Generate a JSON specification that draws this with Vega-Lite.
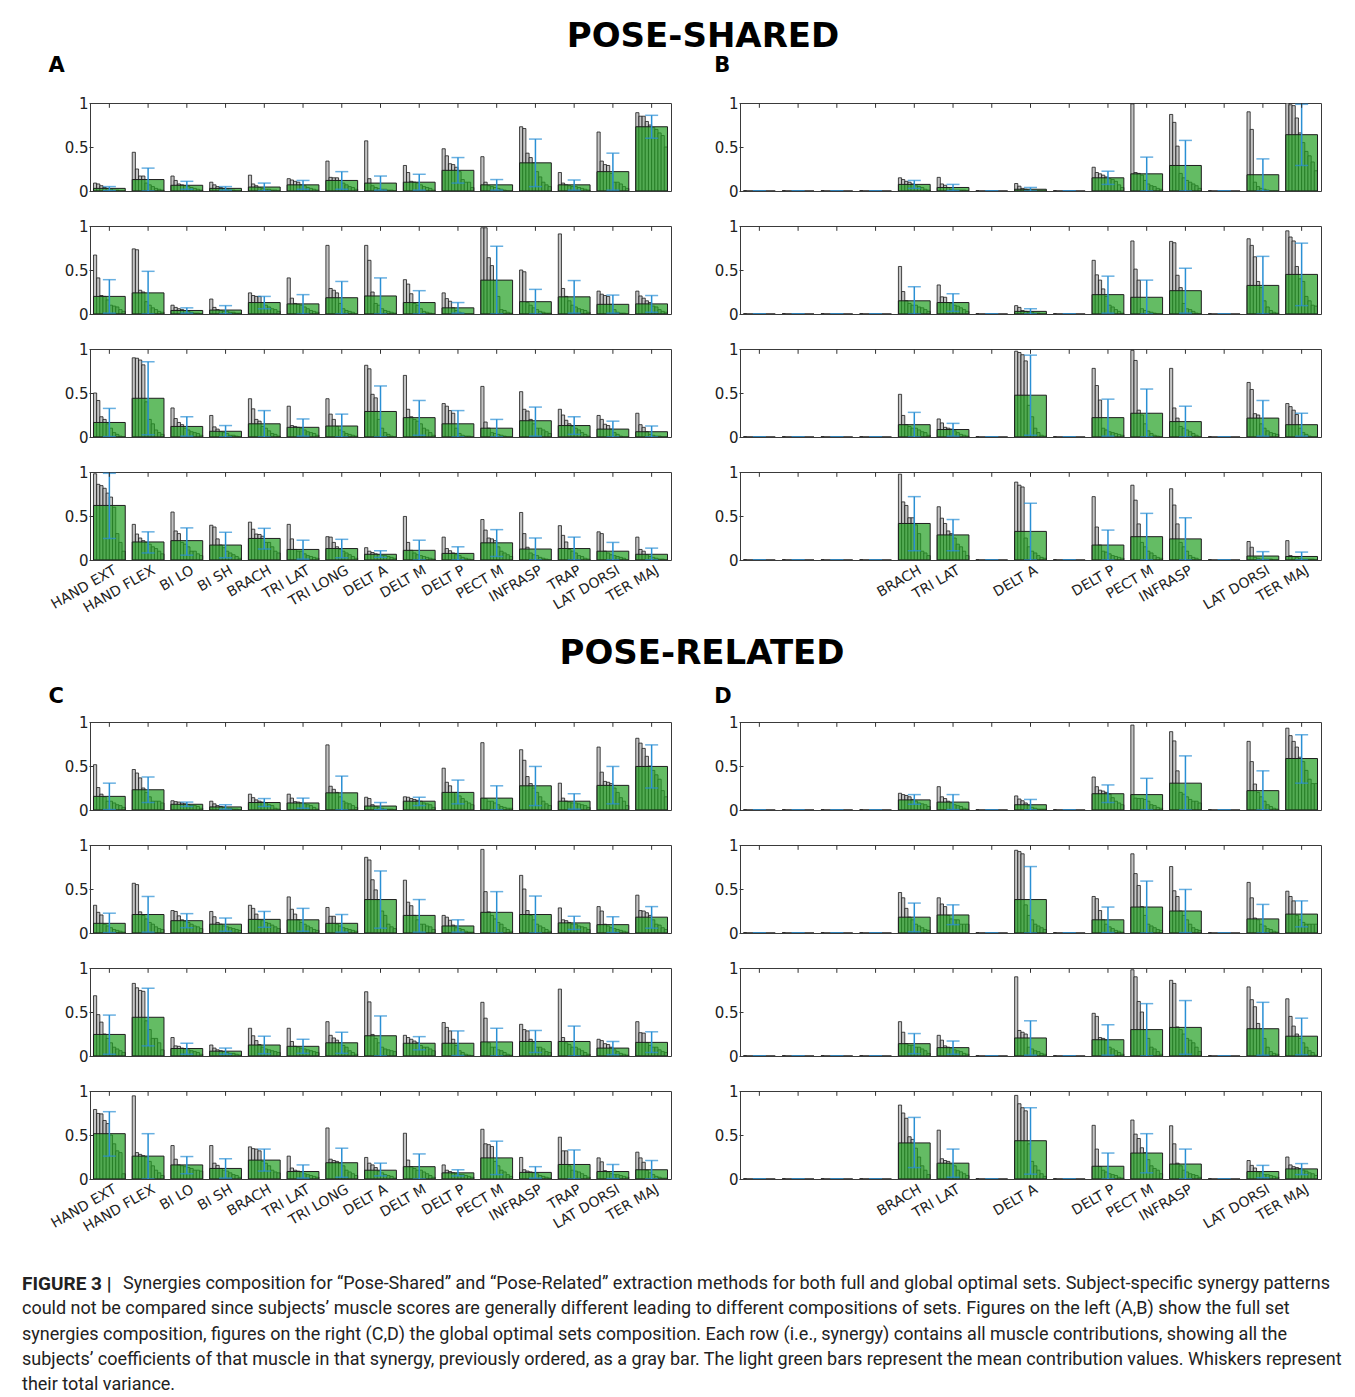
{
"$schema": "https://vega.github.io/schema/vega-lite/v6.json",
"background": "white",
"padding": {"left": 22, "top": 20, "right": 5, "bottom": 0},
"config": {
 "view": {"stroke": "#3a3a3a", "strokeWidth": 1},
 "font": "DejaVu Sans",
 "axis": {"labelFont": "DejaVu Sans", "labelColor": "#222", "domain": false, "grid": false, "tickColor": "#333"}
},
"data": {"values": [
{"p":"A","r":1,"m":"HAND EXT","u":0.03,"lo":0.005,"hi":0.05,"s":[0.09,0.08,0.06,0.04,0.03,0.02,0.01,0.01,0,0]},
{"p":"A","r":1,"m":"HAND FLEX","u":0.13,"lo":0,"hi":0.26,"s":[0.44,0.25,0.17,0.17,0.09,0.07,0.05,0.03,0.02,0.01]},
{"p":"A","r":1,"m":"BI LO","u":0.065,"lo":0.02,"hi":0.11,"s":[0.17,0.12,0.08,0.07,0.06,0.05,0.04,0.03,0.02,0.01]},
{"p":"A","r":1,"m":"BI SH","u":0.03,"lo":0.01,"hi":0.05,"s":[0.1,0.07,0.05,0.04,0.03,0.02,0.01,0.01,0,0]},
{"p":"A","r":1,"m":"BRACH","u":0.045,"lo":0,"hi":0.09,"s":[0.18,0.08,0.06,0.04,0.03,0.02,0.02,0.01,0.01,0]},
{"p":"A","r":1,"m":"TRI LAT","u":0.07,"lo":0.02,"hi":0.12,"s":[0.14,0.125,0.11,0.1,0.07,0.06,0.04,0.03,0.02,0.01]},
{"p":"A","r":1,"m":"TRI LONG","u":0.12,"lo":0.02,"hi":0.22,"s":[0.34,0.155,0.15,0.15,0.12,0.09,0.07,0.05,0.04,0.02]},
{"p":"A","r":1,"m":"DELT A","u":0.09,"lo":0.01,"hi":0.17,"s":[0.57,0.14,0.06,0.04,0.03,0.02,0.02,0.01,0.01,0]},
{"p":"A","r":1,"m":"DELT M","u":0.1,"lo":0.01,"hi":0.19,"s":[0.29,0.21,0.11,0.1,0.09,0.07,0.05,0.04,0.03,0.01]},
{"p":"A","r":1,"m":"DELT P","u":0.235,"lo":0.09,"hi":0.38,"s":[0.48,0.4,0.31,0.3,0.27,0.22,0.13,0.1,0.1,0.04]},
{"p":"A","r":1,"m":"PECT M","u":0.07,"lo":0.01,"hi":0.13,"s":[0.39,0.1,0.06,0.05,0.04,0.03,0.02,0.01,0,0]},
{"p":"A","r":1,"m":"INFRASP","u":0.32,"lo":0.05,"hi":0.59,"s":[0.73,0.71,0.43,0.38,0.32,0.22,0.16,0.1,0.07,0.05]},
{"p":"A","r":1,"m":"TRAP","u":0.07,"lo":0.01,"hi":0.125,"s":[0.21,0.09,0.07,0.06,0.05,0.05,0.04,0.03,0.02,0.01]},
{"p":"A","r":1,"m":"LAT DORSI","u":0.22,"lo":0.01,"hi":0.43,"s":[0.67,0.34,0.3,0.29,0.2,0.1,0.1,0.08,0.05,0.03]},
{"p":"A","r":1,"m":"TER MAJ","u":0.73,"lo":0.6,"hi":0.86,"s":[0.89,0.85,0.85,0.79,0.75,0.72,0.7,0.66,0.63,0.5]},
{"p":"A","r":2,"m":"HAND EXT","u":0.2,"lo":0.01,"hi":0.39,"s":[0.67,0.41,0.21,0.2,0.16,0.1,0.09,0.08,0.05,0.03]},
{"p":"A","r":2,"m":"HAND FLEX","u":0.24,"lo":0,"hi":0.485,"s":[0.74,0.73,0.27,0.25,0.14,0.1,0.07,0.05,0.03,0.02]},
{"p":"A","r":2,"m":"BI LO","u":0.04,"lo":0.01,"hi":0.07,"s":[0.1,0.075,0.06,0.05,0.04,0.03,0.02,0.01,0.01,0]},
{"p":"A","r":2,"m":"BI SH","u":0.045,"lo":0,"hi":0.095,"s":[0.17,0.075,0.05,0.04,0.03,0.03,0.02,0.02,0.01,0.01]},
{"p":"A","r":2,"m":"BRACH","u":0.13,"lo":0.06,"hi":0.2,"s":[0.24,0.21,0.2,0.2,0.13,0.1,0.08,0.06,0.05,0.03]},
{"p":"A","r":2,"m":"TRI LAT","u":0.115,"lo":0,"hi":0.22,"s":[0.41,0.18,0.12,0.11,0.1,0.08,0.06,0.04,0.03,0.02]},
{"p":"A","r":2,"m":"TRI LONG","u":0.185,"lo":0,"hi":0.37,"s":[0.78,0.29,0.27,0.24,0.12,0.06,0.04,0.03,0.02,0]},
{"p":"A","r":2,"m":"DELT A","u":0.205,"lo":0,"hi":0.41,"s":[0.78,0.61,0.25,0.12,0.1,0.06,0.04,0.03,0.02,0.01]},
{"p":"A","r":2,"m":"DELT M","u":0.13,"lo":0,"hi":0.265,"s":[0.39,0.34,0.23,0.12,0.1,0.06,0.03,0.02,0.01,0]},
{"p":"A","r":2,"m":"DELT P","u":0.07,"lo":0.01,"hi":0.13,"s":[0.24,0.175,0.145,0.07,0.04,0.02,0.01,0,0,0]},
{"p":"A","r":2,"m":"PECT M","u":0.385,"lo":0,"hi":0.77,"s":[0.98,0.98,0.64,0.55,0.38,0.2,0.05,0.04,0.02,0.01]},
{"p":"A","r":2,"m":"INFRASP","u":0.14,"lo":0,"hi":0.28,"s":[0.5,0.48,0.13,0.1,0.07,0.05,0.03,0.02,0.01,0.01]},
{"p":"A","r":2,"m":"TRAP","u":0.195,"lo":0.01,"hi":0.38,"s":[0.91,0.29,0.2,0.15,0.1,0.08,0.06,0.05,0.04,0.02]},
{"p":"A","r":2,"m":"LAT DORSI","u":0.11,"lo":0.01,"hi":0.215,"s":[0.26,0.225,0.21,0.2,0.11,0.05,0.02,0.01,0.01,0]},
{"p":"A","r":2,"m":"TER MAJ","u":0.115,"lo":0.02,"hi":0.21,"s":[0.26,0.205,0.18,0.15,0.13,0.09,0.08,0.05,0.03,0.02]},
{"p":"A","r":3,"m":"HAND EXT","u":0.165,"lo":0.005,"hi":0.325,"s":[0.5,0.415,0.23,0.2,0.15,0.1,0.05,0.03,0.01,0]},
{"p":"A","r":3,"m":"HAND FLEX","u":0.44,"lo":0.025,"hi":0.855,"s":[0.9,0.895,0.875,0.82,0.4,0.2,0.15,0.08,0.05,0.03]},
{"p":"A","r":3,"m":"BI LO","u":0.12,"lo":0.01,"hi":0.23,"s":[0.33,0.21,0.165,0.14,0.1,0.08,0.06,0.05,0.04,0.02]},
{"p":"A","r":3,"m":"BI SH","u":0.065,"lo":0,"hi":0.13,"s":[0.245,0.115,0.09,0.06,0.05,0.04,0.02,0.02,0.01,0]},
{"p":"A","r":3,"m":"BRACH","u":0.15,"lo":0,"hi":0.3,"s":[0.435,0.32,0.2,0.18,0.12,0.1,0.07,0.04,0.03,0.01]},
{"p":"A","r":3,"m":"TRI LAT","u":0.11,"lo":0.01,"hi":0.205,"s":[0.35,0.13,0.12,0.11,0.1,0.08,0.06,0.05,0.04,0.02]},
{"p":"A","r":3,"m":"TRI LONG","u":0.125,"lo":0,"hi":0.26,"s":[0.435,0.26,0.2,0.12,0.08,0.06,0.04,0.03,0.02,0.01]},
{"p":"A","r":3,"m":"DELT A","u":0.29,"lo":0,"hi":0.58,"s":[0.815,0.775,0.485,0.445,0.2,0.1,0.05,0.03,0.01,0]},
{"p":"A","r":3,"m":"DELT M","u":0.22,"lo":0.02,"hi":0.415,"s":[0.7,0.315,0.23,0.2,0.18,0.15,0.1,0.08,0.05,0.02]},
{"p":"A","r":3,"m":"DELT P","u":0.15,"lo":0,"hi":0.3,"s":[0.38,0.35,0.3,0.27,0.1,0.04,0.02,0.01,0.01,0]},
{"p":"A","r":3,"m":"PECT M","u":0.1,"lo":0,"hi":0.2,"s":[0.575,0.17,0.1,0.05,0.04,0.03,0.02,0.01,0,0]},
{"p":"A","r":3,"m":"INFRASP","u":0.185,"lo":0.01,"hi":0.34,"s":[0.515,0.315,0.295,0.2,0.15,0.1,0.1,0.08,0.06,0.04]},
{"p":"A","r":3,"m":"TRAP","u":0.13,"lo":0.03,"hi":0.23,"s":[0.315,0.25,0.19,0.15,0.12,0.1,0.08,0.05,0.03,0.01]},
{"p":"A","r":3,"m":"LAT DORSI","u":0.09,"lo":0,"hi":0.18,"s":[0.245,0.2,0.145,0.13,0.09,0.05,0.03,0.01,0,0]},
{"p":"A","r":3,"m":"TER MAJ","u":0.06,"lo":0,"hi":0.125,"s":[0.27,0.14,0.11,0.06,0.03,0.02,0.01,0.01,0,0]},
{"p":"A","r":4,"m":"HAND EXT","u":0.62,"lo":0.245,"hi":0.985,"s":[0.98,0.86,0.845,0.815,0.76,0.715,0.6,0.3,0.2,0.1]},
{"p":"A","r":4,"m":"HAND FLEX","u":0.205,"lo":0.08,"hi":0.32,"s":[0.405,0.295,0.25,0.22,0.2,0.18,0.15,0.13,0.1,0.07]},
{"p":"A","r":4,"m":"BI LO","u":0.22,"lo":0.055,"hi":0.365,"s":[0.545,0.33,0.3,0.2,0.18,0.15,0.1,0.1,0.07,0.05]},
{"p":"A","r":4,"m":"BI SH","u":0.17,"lo":0.025,"hi":0.315,"s":[0.395,0.375,0.24,0.17,0.14,0.1,0.08,0.06,0.04,0.02]},
{"p":"A","r":4,"m":"BRACH","u":0.245,"lo":0.125,"hi":0.36,"s":[0.43,0.35,0.295,0.29,0.27,0.2,0.2,0.15,0.1,0.08]},
{"p":"A","r":4,"m":"TRI LAT","u":0.12,"lo":0.01,"hi":0.225,"s":[0.405,0.24,0.12,0.1,0.1,0.07,0.05,0.04,0.03,0.02]},
{"p":"A","r":4,"m":"TRI LONG","u":0.13,"lo":0.025,"hi":0.235,"s":[0.265,0.26,0.2,0.15,0.12,0.1,0.08,0.06,0.04,0.02]},
{"p":"A","r":4,"m":"DELT A","u":0.065,"lo":0.03,"hi":0.105,"s":[0.14,0.1,0.085,0.07,0.06,0.05,0.05,0.04,0.03,0.02]},
{"p":"A","r":4,"m":"DELT M","u":0.11,"lo":0,"hi":0.225,"s":[0.495,0.2,0.11,0.08,0.06,0.05,0.04,0.03,0.02,0.01]},
{"p":"A","r":4,"m":"DELT P","u":0.075,"lo":0,"hi":0.15,"s":[0.26,0.13,0.105,0.08,0.06,0.05,0.03,0.02,0.01,0]},
{"p":"A","r":4,"m":"PECT M","u":0.195,"lo":0.04,"hi":0.345,"s":[0.46,0.34,0.25,0.24,0.22,0.15,0.1,0.08,0.06,0.04]},
{"p":"A","r":4,"m":"INFRASP","u":0.125,"lo":0,"hi":0.25,"s":[0.54,0.3,0.145,0.08,0.06,0.05,0.03,0.02,0.01,0]},
{"p":"A","r":4,"m":"TRAP","u":0.13,"lo":0,"hi":0.26,"s":[0.39,0.28,0.205,0.12,0.1,0.08,0.05,0.04,0.02,0.01]},
{"p":"A","r":4,"m":"LAT DORSI","u":0.1,"lo":0,"hi":0.2,"s":[0.32,0.3,0.1,0.08,0.06,0.05,0.04,0.03,0.02,0]},
{"p":"A","r":4,"m":"TER MAJ","u":0.065,"lo":0,"hi":0.135,"s":[0.26,0.12,0.1,0.06,0.04,0.03,0.02,0.01,0.01,0]},
{"p":"B","r":1,"m":"BRACH","u":0.075,"lo":0.03,"hi":0.12,"s":[0.15,0.13,0.11,0.1,0.08,0.06,0.05,0.04,0.02,0.01]},
{"p":"B","r":1,"m":"TRI LAT","u":0.04,"lo":0.005,"hi":0.075,"s":[0.155,0.08,0.065,0.04,0.02,0.01,0.01,0.01,0.01,0]},
{"p":"B","r":1,"m":"DELT A","u":0.02,"lo":0,"hi":0.04,"s":[0.085,0.055,0.03,0.02,0.01,0,0,0,0,0]},
{"p":"B","r":1,"m":"DELT P","u":0.15,"lo":0.075,"hi":0.225,"s":[0.27,0.21,0.195,0.18,0.16,0.14,0.13,0.11,0.07,0.04]},
{"p":"B","r":1,"m":"PECT M","u":0.195,"lo":0,"hi":0.385,"s":[0.99,0.21,0.2,0.18,0.12,0.08,0.06,0.05,0.03,0.02]},
{"p":"B","r":1,"m":"INFRASP","u":0.29,"lo":0,"hi":0.575,"s":[0.87,0.78,0.51,0.2,0.15,0.12,0.1,0.08,0.06,0.03]},
{"p":"B","r":1,"m":"LAT DORSI","u":0.185,"lo":0,"hi":0.365,"s":[0.9,0.7,0.1,0.05,0.03,0.02,0.01,0,0,0]},
{"p":"B","r":1,"m":"TER MAJ","u":0.64,"lo":0.29,"hi":0.985,"s":[1,0.98,0.97,0.83,0.66,0.55,0.45,0.4,0.33,0.23]},
{"p":"B","r":2,"m":"BRACH","u":0.15,"lo":0,"hi":0.31,"s":[0.54,0.255,0.15,0.12,0.1,0.1,0.08,0.07,0.05,0.03]},
{"p":"B","r":2,"m":"TRI LAT","u":0.13,"lo":0.03,"hi":0.23,"s":[0.33,0.195,0.19,0.13,0.12,0.1,0.09,0.07,0.05,0.03]},
{"p":"B","r":2,"m":"DELT A","u":0.03,"lo":0,"hi":0.06,"s":[0.095,0.075,0.04,0.03,0.02,0.02,0.01,0.01,0,0]},
{"p":"B","r":2,"m":"DELT P","u":0.22,"lo":0.01,"hi":0.43,"s":[0.61,0.445,0.385,0.285,0.2,0.1,0.08,0.05,0.03,0.01]},
{"p":"B","r":2,"m":"PECT M","u":0.19,"lo":0,"hi":0.385,"s":[0.83,0.51,0.385,0.06,0.04,0.03,0.02,0.01,0,0]},
{"p":"B","r":2,"m":"INFRASP","u":0.265,"lo":0.01,"hi":0.52,"s":[0.825,0.81,0.44,0.3,0.12,0.06,0.05,0.03,0.01,0]},
{"p":"B","r":2,"m":"LAT DORSI","u":0.325,"lo":0,"hi":0.655,"s":[0.855,0.78,0.65,0.37,0.3,0.15,0.08,0.04,0.02,0.01]},
{"p":"B","r":2,"m":"TER MAJ","u":0.45,"lo":0.095,"hi":0.805,"s":[0.945,0.875,0.83,0.54,0.4,0.37,0.2,0.15,0.1,0.09]},
{"p":"B","r":3,"m":"BRACH","u":0.14,"lo":0,"hi":0.28,"s":[0.485,0.245,0.14,0.12,0.1,0.1,0.08,0.06,0.05,0.02]},
{"p":"B","r":3,"m":"TRI LAT","u":0.085,"lo":0.01,"hi":0.155,"s":[0.205,0.16,0.11,0.1,0.09,0.07,0.05,0.03,0.02,0.01]},
{"p":"B","r":3,"m":"DELT A","u":0.475,"lo":0.02,"hi":0.93,"s":[0.975,0.96,0.935,0.865,0.36,0.23,0.1,0.05,0.02,0.01]},
{"p":"B","r":3,"m":"DELT P","u":0.22,"lo":0.01,"hi":0.43,"s":[0.78,0.585,0.42,0.1,0.08,0.06,0.05,0.04,0.03,0.02]},
{"p":"B","r":3,"m":"PECT M","u":0.27,"lo":0,"hi":0.545,"s":[0.985,0.87,0.305,0.25,0.15,0.07,0.04,0.02,0.01,0]},
{"p":"B","r":3,"m":"INFRASP","u":0.175,"lo":0,"hi":0.35,"s":[0.78,0.33,0.215,0.12,0.1,0.08,0.06,0.04,0.02,0]},
{"p":"B","r":3,"m":"LAT DORSI","u":0.215,"lo":0.01,"hi":0.415,"s":[0.62,0.54,0.265,0.25,0.15,0.1,0.07,0.05,0.04,0.03]},
{"p":"B","r":3,"m":"TER MAJ","u":0.14,"lo":0.01,"hi":0.27,"s":[0.38,0.345,0.305,0.255,0.1,0.05,0.03,0.01,0,0]},
{"p":"B","r":4,"m":"BRACH","u":0.415,"lo":0.105,"hi":0.72,"s":[0.975,0.66,0.62,0.48,0.48,0.4,0.3,0.1,0.08,0.05]},
{"p":"B","r":4,"m":"TRI LAT","u":0.285,"lo":0.105,"hi":0.46,"s":[0.605,0.475,0.415,0.33,0.3,0.25,0.18,0.15,0.1,0.05]},
{"p":"B","r":4,"m":"DELT A","u":0.325,"lo":0,"hi":0.645,"s":[0.885,0.85,0.83,0.25,0.15,0.1,0.08,0.05,0.03,0.02]},
{"p":"B","r":4,"m":"DELT P","u":0.17,"lo":0,"hi":0.34,"s":[0.72,0.375,0.17,0.1,0.09,0.07,0.05,0.04,0.03,0.02]},
{"p":"B","r":4,"m":"PECT M","u":0.265,"lo":0,"hi":0.53,"s":[0.85,0.68,0.41,0.2,0.15,0.1,0.08,0.05,0.03,0.02]},
{"p":"B","r":4,"m":"INFRASP","u":0.24,"lo":0,"hi":0.48,"s":[0.81,0.625,0.41,0.2,0.15,0.1,0.05,0.03,0.02,0]},
{"p":"B","r":4,"m":"LAT DORSI","u":0.045,"lo":0,"hi":0.095,"s":[0.21,0.145,0.03,0.02,0.01,0.01,0.01,0.01,0,0]},
{"p":"B","r":4,"m":"TER MAJ","u":0.04,"lo":0,"hi":0.09,"s":[0.22,0.05,0.04,0.03,0.02,0.01,0.01,0.01,0.01,0]},
{"p":"C","r":1,"m":"HAND EXT","u":0.155,"lo":0.005,"hi":0.305,"s":[0.515,0.255,0.18,0.15,0.1,0.1,0.08,0.06,0.05,0.03]},
{"p":"C","r":1,"m":"HAND FLEX","u":0.23,"lo":0.085,"hi":0.375,"s":[0.46,0.42,0.365,0.25,0.2,0.15,0.1,0.1,0.1,0.08]},
{"p":"C","r":1,"m":"BI LO","u":0.065,"lo":0.04,"hi":0.09,"s":[0.105,0.095,0.09,0.08,0.07,0.06,0.05,0.05,0.04,0.02]},
{"p":"C","r":1,"m":"BI SH","u":0.035,"lo":0.01,"hi":0.06,"s":[0.1,0.07,0.05,0.04,0.03,0.02,0.02,0.01,0.01,0]},
{"p":"C","r":1,"m":"BRACH","u":0.085,"lo":0.04,"hi":0.13,"s":[0.18,0.14,0.115,0.1,0.09,0.08,0.06,0.05,0.02,0.01]},
{"p":"C","r":1,"m":"TRI LAT","u":0.08,"lo":0.02,"hi":0.135,"s":[0.18,0.135,0.095,0.09,0.08,0.07,0.06,0.05,0.03,0.01]},
{"p":"C","r":1,"m":"TRI LONG","u":0.195,"lo":0,"hi":0.385,"s":[0.74,0.27,0.235,0.2,0.15,0.1,0.08,0.07,0.05,0.03]},
{"p":"C","r":1,"m":"DELT A","u":0.045,"lo":0.005,"hi":0.085,"s":[0.145,0.13,0.06,0.04,0.03,0.02,0.01,0.01,0.01,0]},
{"p":"C","r":1,"m":"DELT M","u":0.1,"lo":0.05,"hi":0.145,"s":[0.15,0.145,0.13,0.12,0.11,0.1,0.08,0.07,0.06,0.03]},
{"p":"C","r":1,"m":"DELT P","u":0.2,"lo":0.07,"hi":0.34,"s":[0.475,0.315,0.275,0.2,0.2,0.16,0.13,0.1,0.08,0.06]},
{"p":"C","r":1,"m":"PECT M","u":0.135,"lo":0,"hi":0.275,"s":[0.765,0.13,0.1,0.1,0.08,0.06,0.04,0.03,0.02,0.02]},
{"p":"C","r":1,"m":"INFRASP","u":0.275,"lo":0.05,"hi":0.495,"s":[0.685,0.565,0.38,0.3,0.25,0.2,0.15,0.1,0.07,0.05]},
{"p":"C","r":1,"m":"TRAP","u":0.1,"lo":0.01,"hi":0.185,"s":[0.305,0.135,0.1,0.09,0.08,0.08,0.07,0.06,0.05,0.03]},
{"p":"C","r":1,"m":"LAT DORSI","u":0.28,"lo":0.07,"hi":0.495,"s":[0.715,0.43,0.325,0.315,0.3,0.25,0.2,0.14,0.1,0.05]},
{"p":"C","r":1,"m":"TER MAJ","u":0.495,"lo":0.25,"hi":0.74,"s":[0.815,0.76,0.7,0.61,0.5,0.45,0.4,0.35,0.22,0.15]},
{"p":"C","r":2,"m":"HAND EXT","u":0.11,"lo":0.005,"hi":0.225,"s":[0.315,0.235,0.205,0.1,0.08,0.06,0.04,0.03,0.02,0.01]},
{"p":"C","r":2,"m":"HAND FLEX","u":0.21,"lo":0.01,"hi":0.415,"s":[0.565,0.55,0.24,0.2,0.16,0.12,0.1,0.07,0.05,0.04]},
{"p":"C","r":2,"m":"BI LO","u":0.14,"lo":0.06,"hi":0.22,"s":[0.255,0.245,0.195,0.15,0.13,0.12,0.1,0.08,0.07,0.05]},
{"p":"C","r":2,"m":"BI SH","u":0.1,"lo":0.02,"hi":0.17,"s":[0.245,0.185,0.12,0.1,0.08,0.07,0.06,0.05,0.04,0.03]},
{"p":"C","r":2,"m":"BRACH","u":0.155,"lo":0.065,"hi":0.245,"s":[0.315,0.28,0.215,0.15,0.14,0.12,0.11,0.09,0.07,0.05]},
{"p":"C","r":2,"m":"TRI LAT","u":0.15,"lo":0.02,"hi":0.28,"s":[0.41,0.27,0.215,0.15,0.12,0.1,0.08,0.06,0.04,0.03]},
{"p":"C","r":2,"m":"TRI LONG","u":0.11,"lo":0.01,"hi":0.21,"s":[0.29,0.19,0.19,0.1,0.08,0.06,0.05,0.04,0.03,0.02]},
{"p":"C","r":2,"m":"DELT A","u":0.38,"lo":0.055,"hi":0.705,"s":[0.86,0.83,0.605,0.49,0.38,0.25,0.2,0.1,0.07,0.05]},
{"p":"C","r":2,"m":"DELT M","u":0.2,"lo":0.01,"hi":0.38,"s":[0.6,0.35,0.31,0.2,0.15,0.1,0.1,0.08,0.07,0.04]},
{"p":"C","r":2,"m":"DELT P","u":0.08,"lo":0.01,"hi":0.15,"s":[0.2,0.18,0.145,0.09,0.06,0.05,0.04,0.02,0.01,0.01]},
{"p":"C","r":2,"m":"PECT M","u":0.235,"lo":0,"hi":0.47,"s":[0.95,0.47,0.24,0.2,0.16,0.12,0.1,0.06,0.04,0.02]},
{"p":"C","r":2,"m":"INFRASP","u":0.21,"lo":0,"hi":0.42,"s":[0.655,0.5,0.255,0.2,0.15,0.1,0.08,0.06,0.04,0.02]},
{"p":"C","r":2,"m":"TRAP","u":0.115,"lo":0.04,"hi":0.19,"s":[0.285,0.15,0.14,0.12,0.1,0.1,0.08,0.07,0.06,0.04]},
{"p":"C","r":2,"m":"LAT DORSI","u":0.095,"lo":0.005,"hi":0.185,"s":[0.3,0.25,0.1,0.08,0.06,0.05,0.04,0.03,0.02,0.01]},
{"p":"C","r":2,"m":"TER MAJ","u":0.18,"lo":0.055,"hi":0.3,"s":[0.43,0.255,0.25,0.23,0.2,0.15,0.1,0.09,0.06,0.04]},
{"p":"C","r":3,"m":"HAND EXT","u":0.245,"lo":0.02,"hi":0.465,"s":[0.685,0.47,0.385,0.25,0.2,0.15,0.1,0.08,0.06,0.04]},
{"p":"C","r":3,"m":"HAND FLEX","u":0.44,"lo":0.115,"hi":0.77,"s":[0.825,0.775,0.745,0.735,0.4,0.3,0.2,0.2,0.15,0.07]},
{"p":"C","r":3,"m":"BI LO","u":0.085,"lo":0.02,"hi":0.145,"s":[0.21,0.115,0.11,0.09,0.08,0.07,0.06,0.05,0.04,0.02]},
{"p":"C","r":3,"m":"BI SH","u":0.055,"lo":0.02,"hi":0.09,"s":[0.125,0.09,0.07,0.06,0.05,0.04,0.03,0.03,0.02,0.01]},
{"p":"C","r":3,"m":"BRACH","u":0.125,"lo":0.025,"hi":0.225,"s":[0.315,0.23,0.175,0.13,0.1,0.08,0.07,0.06,0.05,0.04]},
{"p":"C","r":3,"m":"TRI LAT","u":0.11,"lo":0.03,"hi":0.19,"s":[0.315,0.165,0.11,0.1,0.09,0.08,0.07,0.06,0.05,0.04]},
{"p":"C","r":3,"m":"TRI LONG","u":0.15,"lo":0.03,"hi":0.27,"s":[0.39,0.235,0.205,0.18,0.15,0.12,0.1,0.06,0.04,0.02]},
{"p":"C","r":3,"m":"DELT A","u":0.23,"lo":0,"hi":0.455,"s":[0.73,0.615,0.245,0.2,0.15,0.1,0.08,0.07,0.06,0.05]},
{"p":"C","r":3,"m":"DELT M","u":0.145,"lo":0.07,"hi":0.22,"s":[0.235,0.21,0.19,0.17,0.15,0.12,0.1,0.1,0.08,0.06]},
{"p":"C","r":3,"m":"DELT P","u":0.145,"lo":0.005,"hi":0.285,"s":[0.38,0.325,0.285,0.19,0.12,0.06,0.04,0.02,0.01,0]},
{"p":"C","r":3,"m":"PECT M","u":0.16,"lo":0,"hi":0.315,"s":[0.61,0.43,0.15,0.1,0.1,0.07,0.06,0.04,0.02,0.01]},
{"p":"C","r":3,"m":"INFRASP","u":0.165,"lo":0.04,"hi":0.29,"s":[0.36,0.3,0.285,0.19,0.15,0.1,0.1,0.08,0.05,0.04]},
{"p":"C","r":3,"m":"TRAP","u":0.165,"lo":0,"hi":0.34,"s":[0.76,0.21,0.15,0.13,0.1,0.1,0.08,0.06,0.04,0.02]},
{"p":"C","r":3,"m":"LAT DORSI","u":0.09,"lo":0.015,"hi":0.165,"s":[0.19,0.175,0.14,0.13,0.1,0.07,0.05,0.03,0.02,0.01]},
{"p":"C","r":3,"m":"TER MAJ","u":0.155,"lo":0.04,"hi":0.275,"s":[0.39,0.265,0.26,0.15,0.12,0.1,0.1,0.07,0.05,0.04]},
{"p":"C","r":4,"m":"HAND EXT","u":0.515,"lo":0.26,"hi":0.765,"s":[0.79,0.745,0.74,0.665,0.63,0.5,0.4,0.32,0.3,0.06]},
{"p":"C","r":4,"m":"HAND FLEX","u":0.26,"lo":0,"hi":0.515,"s":[0.945,0.3,0.28,0.265,0.25,0.2,0.15,0.1,0.07,0.04]},
{"p":"C","r":4,"m":"BI LO","u":0.16,"lo":0.06,"hi":0.255,"s":[0.38,0.225,0.16,0.15,0.14,0.13,0.12,0.1,0.1,0.09]},
{"p":"C","r":4,"m":"BI SH","u":0.12,"lo":0.01,"hi":0.23,"s":[0.38,0.18,0.155,0.12,0.1,0.09,0.07,0.05,0.04,0.02]},
{"p":"C","r":4,"m":"BRACH","u":0.215,"lo":0.09,"hi":0.34,"s":[0.365,0.345,0.34,0.32,0.2,0.18,0.15,0.1,0.08,0.07]},
{"p":"C","r":4,"m":"TRI LAT","u":0.085,"lo":0.01,"hi":0.16,"s":[0.26,0.125,0.1,0.09,0.08,0.06,0.05,0.04,0.03,0.02]},
{"p":"C","r":4,"m":"TRI LONG","u":0.185,"lo":0.02,"hi":0.35,"s":[0.58,0.225,0.21,0.2,0.18,0.15,0.1,0.08,0.06,0.04]},
{"p":"C","r":4,"m":"DELT A","u":0.1,"lo":0.035,"hi":0.18,"s":[0.245,0.18,0.16,0.13,0.09,0.07,0.05,0.04,0.03,0.01]},
{"p":"C","r":4,"m":"DELT M","u":0.14,"lo":0,"hi":0.285,"s":[0.52,0.215,0.14,0.12,0.1,0.1,0.08,0.06,0.04,0.02]},
{"p":"C","r":4,"m":"DELT P","u":0.07,"lo":0.035,"hi":0.105,"s":[0.16,0.1,0.085,0.07,0.06,0.05,0.05,0.04,0.03,0.02]},
{"p":"C","r":4,"m":"PECT M","u":0.24,"lo":0.05,"hi":0.43,"s":[0.565,0.4,0.39,0.37,0.2,0.15,0.1,0.08,0.05,0.03]},
{"p":"C","r":4,"m":"INFRASP","u":0.075,"lo":0.01,"hi":0.14,"s":[0.245,0.105,0.09,0.08,0.07,0.06,0.04,0.03,0.02,0.01]},
{"p":"C","r":4,"m":"TRAP","u":0.165,"lo":0,"hi":0.33,"s":[0.475,0.32,0.32,0.15,0.1,0.09,0.08,0.06,0.04,0.02]},
{"p":"C","r":4,"m":"LAT DORSI","u":0.085,"lo":0.005,"hi":0.165,"s":[0.24,0.195,0.095,0.08,0.06,0.05,0.05,0.04,0.03,0.02]},
{"p":"C","r":4,"m":"TER MAJ","u":0.105,"lo":0,"hi":0.21,"s":[0.305,0.24,0.19,0.1,0.07,0.05,0.03,0.02,0.01,0.01]},
{"p":"D","r":1,"m":"BRACH","u":0.115,"lo":0.065,"hi":0.175,"s":[0.19,0.175,0.165,0.15,0.12,0.1,0.08,0.07,0.06,0.04]},
{"p":"D","r":1,"m":"TRI LAT","u":0.09,"lo":0.005,"hi":0.175,"s":[0.265,0.15,0.13,0.1,0.08,0.06,0.05,0.04,0.02,0.01]},
{"p":"D","r":1,"m":"DELT A","u":0.06,"lo":0,"hi":0.12,"s":[0.16,0.125,0.105,0.08,0.05,0.03,0.02,0.01,0.01,0.01]},
{"p":"D","r":1,"m":"DELT P","u":0.185,"lo":0.085,"hi":0.285,"s":[0.375,0.265,0.225,0.215,0.2,0.18,0.14,0.1,0.08,0.06]},
{"p":"D","r":1,"m":"PECT M","u":0.175,"lo":0,"hi":0.36,"s":[0.965,0.135,0.13,0.13,0.12,0.1,0.06,0.05,0.03,0.02]},
{"p":"D","r":1,"m":"INFRASP","u":0.305,"lo":0,"hi":0.615,"s":[0.89,0.785,0.445,0.2,0.18,0.15,0.12,0.1,0.1,0.08]},
{"p":"D","r":1,"m":"LAT DORSI","u":0.22,"lo":0,"hi":0.445,"s":[0.78,0.55,0.295,0.2,0.15,0.1,0.06,0.04,0.02,0.01]},
{"p":"D","r":1,"m":"TER MAJ","u":0.585,"lo":0.305,"hi":0.855,"s":[0.93,0.845,0.78,0.715,0.6,0.55,0.45,0.35,0.3,0.3]},
{"p":"D","r":2,"m":"BRACH","u":0.18,"lo":0.015,"hi":0.34,"s":[0.46,0.4,0.28,0.18,0.15,0.1,0.08,0.06,0.04,0.03]},
{"p":"D","r":2,"m":"TRI LAT","u":0.205,"lo":0.095,"hi":0.32,"s":[0.4,0.33,0.3,0.2,0.16,0.15,0.15,0.1,0.1,0.1]},
{"p":"D","r":2,"m":"DELT A","u":0.38,"lo":0,"hi":0.755,"s":[0.94,0.925,0.9,0.32,0.2,0.15,0.1,0.08,0.06,0.04]},
{"p":"D","r":2,"m":"DELT P","u":0.15,"lo":0.005,"hi":0.295,"s":[0.415,0.39,0.255,0.15,0.1,0.07,0.05,0.03,0.02,0.01]},
{"p":"D","r":2,"m":"PECT M","u":0.295,"lo":0,"hi":0.59,"s":[0.9,0.675,0.54,0.3,0.2,0.1,0.08,0.06,0.04,0.03]},
{"p":"D","r":2,"m":"INFRASP","u":0.25,"lo":0.005,"hi":0.495,"s":[0.755,0.48,0.415,0.25,0.2,0.15,0.1,0.06,0.04,0.03]},
{"p":"D","r":2,"m":"LAT DORSI","u":0.16,"lo":0,"hi":0.325,"s":[0.575,0.4,0.17,0.15,0.1,0.08,0.05,0.04,0.02,0.01]},
{"p":"D","r":2,"m":"TER MAJ","u":0.215,"lo":0.07,"hi":0.365,"s":[0.475,0.415,0.365,0.2,0.15,0.12,0.1,0.1,0.1,0.1]},
{"p":"D","r":3,"m":"BRACH","u":0.14,"lo":0.025,"hi":0.255,"s":[0.39,0.27,0.14,0.12,0.12,0.1,0.1,0.08,0.06,0.03]},
{"p":"D","r":3,"m":"TRI LAT","u":0.095,"lo":0.02,"hi":0.17,"s":[0.235,0.18,0.115,0.1,0.09,0.07,0.06,0.05,0.03,0.02]},
{"p":"D","r":3,"m":"DELT A","u":0.205,"lo":0.01,"hi":0.4,"s":[0.9,0.29,0.27,0.25,0.1,0.08,0.06,0.05,0.03,0.02]},
{"p":"D","r":3,"m":"DELT P","u":0.185,"lo":0.01,"hi":0.355,"s":[0.485,0.45,0.21,0.2,0.18,0.1,0.08,0.06,0.04,0.02]},
{"p":"D","r":3,"m":"PECT M","u":0.3,"lo":0,"hi":0.595,"s":[0.98,0.9,0.62,0.5,0.3,0.2,0.1,0.08,0.05,0.02]},
{"p":"D","r":3,"m":"INFRASP","u":0.325,"lo":0.02,"hi":0.63,"s":[0.86,0.825,0.33,0.3,0.25,0.2,0.18,0.15,0.1,0.05]},
{"p":"D","r":3,"m":"LAT DORSI","u":0.31,"lo":0.01,"hi":0.61,"s":[0.785,0.64,0.56,0.37,0.31,0.2,0.1,0.05,0.03,0.02]},
{"p":"D","r":3,"m":"TER MAJ","u":0.225,"lo":0.015,"hi":0.43,"s":[0.65,0.45,0.34,0.25,0.2,0.15,0.1,0.06,0.04,0.01]},
{"p":"D","r":4,"m":"BRACH","u":0.41,"lo":0.13,"hi":0.7,"s":[0.84,0.75,0.69,0.48,0.45,0.35,0.25,0.15,0.1,0.05]},
{"p":"D","r":4,"m":"TRI LAT","u":0.18,"lo":0.02,"hi":0.34,"s":[0.555,0.23,0.21,0.2,0.17,0.15,0.1,0.08,0.06,0.04]},
{"p":"D","r":4,"m":"DELT A","u":0.435,"lo":0.055,"hi":0.81,"s":[0.95,0.855,0.81,0.775,0.4,0.2,0.15,0.1,0.06,0.03]},
{"p":"D","r":4,"m":"DELT P","u":0.145,"lo":0,"hi":0.295,"s":[0.61,0.34,0.14,0.1,0.08,0.06,0.05,0.04,0.02,0.01]},
{"p":"D","r":4,"m":"PECT M","u":0.295,"lo":0.07,"hi":0.515,"s":[0.67,0.51,0.46,0.355,0.3,0.22,0.15,0.12,0.1,0.06]},
{"p":"D","r":4,"m":"INFRASP","u":0.17,"lo":0,"hi":0.34,"s":[0.605,0.4,0.18,0.15,0.1,0.08,0.06,0.05,0.04,0.02]},
{"p":"D","r":4,"m":"LAT DORSI","u":0.085,"lo":0.015,"hi":0.155,"s":[0.21,0.155,0.125,0.08,0.07,0.05,0.05,0.04,0.03,0.02]},
{"p":"D","r":4,"m":"TER MAJ","u":0.115,"lo":0.05,"hi":0.175,"s":[0.25,0.16,0.14,0.13,0.12,0.1,0.09,0.07,0.06,0.04]},
{"p":"B","r":1,"m":"HAND EXT","u":0,"lo":0,"hi":0,"s":[0]},{"p":"B","r":1,"m":"HAND FLEX","u":0,"lo":0,"hi":0,"s":[0]},{"p":"B","r":1,"m":"BI LO","u":0,"lo":0,"hi":0,"s":[0]},{"p":"B","r":1,"m":"BI SH","u":0,"lo":0,"hi":0,"s":[0]},{"p":"B","r":1,"m":"TRI LONG","u":0,"lo":0,"hi":0,"s":[0]},{"p":"B","r":1,"m":"DELT M","u":0,"lo":0,"hi":0,"s":[0]},{"p":"B","r":1,"m":"TRAP","u":0,"lo":0,"hi":0,"s":[0]},
{"p":"B","r":2,"m":"HAND EXT","u":0,"lo":0,"hi":0,"s":[0]},{"p":"B","r":2,"m":"HAND FLEX","u":0,"lo":0,"hi":0,"s":[0]},{"p":"B","r":2,"m":"BI LO","u":0,"lo":0,"hi":0,"s":[0]},{"p":"B","r":2,"m":"BI SH","u":0,"lo":0,"hi":0,"s":[0]},{"p":"B","r":2,"m":"TRI LONG","u":0,"lo":0,"hi":0,"s":[0]},{"p":"B","r":2,"m":"DELT M","u":0,"lo":0,"hi":0,"s":[0]},{"p":"B","r":2,"m":"TRAP","u":0,"lo":0,"hi":0,"s":[0]},
{"p":"B","r":3,"m":"HAND EXT","u":0,"lo":0,"hi":0,"s":[0]},{"p":"B","r":3,"m":"HAND FLEX","u":0,"lo":0,"hi":0,"s":[0]},{"p":"B","r":3,"m":"BI LO","u":0,"lo":0,"hi":0,"s":[0]},{"p":"B","r":3,"m":"BI SH","u":0,"lo":0,"hi":0,"s":[0]},{"p":"B","r":3,"m":"TRI LONG","u":0,"lo":0,"hi":0,"s":[0]},{"p":"B","r":3,"m":"DELT M","u":0,"lo":0,"hi":0,"s":[0]},{"p":"B","r":3,"m":"TRAP","u":0,"lo":0,"hi":0,"s":[0]},
{"p":"B","r":4,"m":"HAND EXT","u":0,"lo":0,"hi":0,"s":[0]},{"p":"B","r":4,"m":"HAND FLEX","u":0,"lo":0,"hi":0,"s":[0]},{"p":"B","r":4,"m":"BI LO","u":0,"lo":0,"hi":0,"s":[0]},{"p":"B","r":4,"m":"BI SH","u":0,"lo":0,"hi":0,"s":[0]},{"p":"B","r":4,"m":"TRI LONG","u":0,"lo":0,"hi":0,"s":[0]},{"p":"B","r":4,"m":"DELT M","u":0,"lo":0,"hi":0,"s":[0]},{"p":"B","r":4,"m":"TRAP","u":0,"lo":0,"hi":0,"s":[0]},
{"p":"D","r":1,"m":"HAND EXT","u":0,"lo":0,"hi":0,"s":[0]},{"p":"D","r":1,"m":"HAND FLEX","u":0,"lo":0,"hi":0,"s":[0]},{"p":"D","r":1,"m":"BI LO","u":0,"lo":0,"hi":0,"s":[0]},{"p":"D","r":1,"m":"BI SH","u":0,"lo":0,"hi":0,"s":[0]},{"p":"D","r":1,"m":"TRI LONG","u":0,"lo":0,"hi":0,"s":[0]},{"p":"D","r":1,"m":"DELT M","u":0,"lo":0,"hi":0,"s":[0]},{"p":"D","r":1,"m":"TRAP","u":0,"lo":0,"hi":0,"s":[0]},
{"p":"D","r":2,"m":"HAND EXT","u":0,"lo":0,"hi":0,"s":[0]},{"p":"D","r":2,"m":"HAND FLEX","u":0,"lo":0,"hi":0,"s":[0]},{"p":"D","r":2,"m":"BI LO","u":0,"lo":0,"hi":0,"s":[0]},{"p":"D","r":2,"m":"BI SH","u":0,"lo":0,"hi":0,"s":[0]},{"p":"D","r":2,"m":"TRI LONG","u":0,"lo":0,"hi":0,"s":[0]},{"p":"D","r":2,"m":"DELT M","u":0,"lo":0,"hi":0,"s":[0]},{"p":"D","r":2,"m":"TRAP","u":0,"lo":0,"hi":0,"s":[0]},
{"p":"D","r":3,"m":"HAND EXT","u":0,"lo":0,"hi":0,"s":[0]},{"p":"D","r":3,"m":"HAND FLEX","u":0,"lo":0,"hi":0,"s":[0]},{"p":"D","r":3,"m":"BI LO","u":0,"lo":0,"hi":0,"s":[0]},{"p":"D","r":3,"m":"BI SH","u":0,"lo":0,"hi":0,"s":[0]},{"p":"D","r":3,"m":"TRI LONG","u":0,"lo":0,"hi":0,"s":[0]},{"p":"D","r":3,"m":"DELT M","u":0,"lo":0,"hi":0,"s":[0]},{"p":"D","r":3,"m":"TRAP","u":0,"lo":0,"hi":0,"s":[0]},
{"p":"D","r":4,"m":"HAND EXT","u":0,"lo":0,"hi":0,"s":[0]},{"p":"D","r":4,"m":"HAND FLEX","u":0,"lo":0,"hi":0,"s":[0]},{"p":"D","r":4,"m":"BI LO","u":0,"lo":0,"hi":0,"s":[0]},{"p":"D","r":4,"m":"BI SH","u":0,"lo":0,"hi":0,"s":[0]},{"p":"D","r":4,"m":"TRI LONG","u":0,"lo":0,"hi":0,"s":[0]},{"p":"D","r":4,"m":"DELT M","u":0,"lo":0,"hi":0,"s":[0]},{"p":"D","r":4,"m":"TRAP","u":0,"lo":0,"hi":0,"s":[0]}
]},
"spacing": 21,
"vconcat": [
 {
  "title": {"text": "POSE-SHARED", "fontSize": 34, "fontWeight": "bold", "font": "DejaVu Sans", "anchor": "middle", "color": "#000", "offset": 1, "dx": 18},
  "spacing": 42,
  "hconcat": [
   {
    "title": {"text": "A", "anchor": "start", "frame": "bounds", "fontSize": 21, "fontWeight": "bold", "color": "#000", "offset": 20},
    "transform": [{"filter": "datum.p == 'A'"}, {"flatten": ["s"], "as": ["v"]}, {"window": [{"op": "row_number", "as": "k"}], "groupby": ["r","m"], "sort": [{"field": "v", "order": "descending"}]}],
    "facet": {"row": {"field": "r", "type": "ordinal", "header": null}},
    "spacing": 33,
    "spec": {
     "width": 581, "height": 88,
     "encoding": {"x": {"field": "m", "type": "nominal", "sort": null, "scale": {"domain": ["HAND EXT","HAND FLEX","BI LO","BI SH","BRACH","TRI LAT","TRI LONG","DELT A","DELT M","DELT P","PECT M","INFRASP","TRAP","LAT DORSI","TER MAJ"], "paddingInner": 0.18, "paddingOuter": 0.09}, "axis": {"title": null, "labelAngle": -30, "labelAlign": "right", "labelBaseline": "middle", "labelFontSize": 14, "labelPadding": 8, "labelOffset": 6, "ticks": false, "domain": false}}},
     "layer": [
      {"mark": {"type": "bar", "fill": "#c4c4c4", "stroke": "#1a1a1a", "strokeWidth": 0.8, "clip": true},
       "encoding": {"xOffset": {"field": "k", "type": "ordinal", "scale": {"paddingInner": 0, "paddingOuter": 0}}, "y": {"field": "v", "type": "quantitative", "stack": null, "scale": {"domain": [0,1]}, "axis": {"title": null, "values": [0,0.5,1], "format": "~g", "labelFontSize": 15, "tickSize": -4, "labelPadding": 5, "domain": false}}}},
      {"transform": [{"filter": "datum.k == 1"}], "mark": {"type": "bar", "fill": "#22a022", "fillOpacity": 0.7, "stroke": "#1e1e1e", "strokeWidth": 1, "clip": true},
       "encoding": {"y": {"field": "u", "type": "quantitative", "stack": null}}},
      {"transform": [{"filter": "datum.k == 1"}], "mark": {"type": "rule", "color": "#2a8fd4", "strokeWidth": 1.5, "clip": true},
       "encoding": {"y": {"field": "lo", "type": "quantitative"}, "y2": {"field": "hi"}}},
      {"transform": [{"filter": "datum.k == 1"}], "mark": {"type": "tick", "color": "#2a8fd4", "size": 13, "thickness": 1.5, "orient": "horizontal", "clip": true},
       "encoding": {"y": {"field": "hi", "type": "quantitative"}}},
      {"transform": [{"filter": "datum.k == 1"}], "mark": {"type": "tick", "color": "#2a8fd4", "size": 13, "thickness": 1.5, "orient": "horizontal", "clip": true},
       "encoding": {"y": {"field": "lo", "type": "quantitative"}}},
      {"transform": [{"filter": "datum.k == 1"}], "mark": {"type": "rule", "color": "#333", "strokeWidth": 1},
       "encoding": {"y": {"datum": 1, "type": "quantitative"}, "y2": {"datum": 0.945}}}
     ]
    }
   },
   {
    "title": {"text": "B", "anchor": "start", "frame": "bounds", "fontSize": 21, "fontWeight": "bold", "color": "#000", "offset": 20},
    "transform": [{"filter": "datum.p == 'B'"}, {"flatten": ["s"], "as": ["v"]}, {"window": [{"op": "row_number", "as": "k"}], "groupby": ["r","m"], "sort": [{"field": "v", "order": "descending"}]}],
    "facet": {"row": {"field": "r", "type": "ordinal", "header": null}},
    "spacing": 33,
    "spec": {
     "width": 581, "height": 88,
     "encoding": {"x": {"field": "m", "type": "nominal", "sort": null, "scale": {"domain": ["HAND EXT","HAND FLEX","BI LO","BI SH","BRACH","TRI LAT","TRI LONG","DELT A","DELT M","DELT P","PECT M","INFRASP","TRAP","LAT DORSI","TER MAJ"], "paddingInner": 0.18, "paddingOuter": 0.09}, "axis": {"title": null, "values": ["BRACH","TRI LAT","DELT A","DELT P","PECT M","INFRASP","LAT DORSI","TER MAJ"], "labelAngle": -30, "labelAlign": "right", "labelBaseline": "middle", "labelFontSize": 14, "labelPadding": 8, "labelOffset": 6, "ticks": false, "domain": false}}},
     "layer": [
      {"mark": {"type": "bar", "fill": "#c4c4c4", "stroke": "#1a1a1a", "strokeWidth": 0.8, "clip": true},
       "encoding": {"xOffset": {"field": "k", "type": "ordinal", "scale": {"paddingInner": 0, "paddingOuter": 0}}, "y": {"field": "v", "type": "quantitative", "stack": null, "scale": {"domain": [0,1]}, "axis": {"title": null, "values": [0,0.5,1], "format": "~g", "labelFontSize": 15, "tickSize": -4, "labelPadding": 5, "domain": false}}}},
      {"transform": [{"filter": "datum.k == 1"}], "mark": {"type": "bar", "fill": "#22a022", "fillOpacity": 0.7, "stroke": "#1e1e1e", "strokeWidth": 1, "clip": true},
       "encoding": {"y": {"field": "u", "type": "quantitative", "stack": null}}},
      {"transform": [{"filter": "datum.k == 1"}], "mark": {"type": "rule", "color": "#2a8fd4", "strokeWidth": 1.5, "clip": true},
       "encoding": {"y": {"field": "lo", "type": "quantitative"}, "y2": {"field": "hi"}}},
      {"transform": [{"filter": "datum.k == 1"}], "mark": {"type": "tick", "color": "#2a8fd4", "size": 13, "thickness": 1.5, "orient": "horizontal", "clip": true},
       "encoding": {"y": {"field": "hi", "type": "quantitative"}}},
      {"transform": [{"filter": "datum.k == 1"}], "mark": {"type": "tick", "color": "#2a8fd4", "size": 13, "thickness": 1.5, "orient": "horizontal", "clip": true},
       "encoding": {"y": {"field": "lo", "type": "quantitative"}}},
      {"transform": [{"filter": "datum.k == 1"}], "mark": {"type": "rule", "color": "#333", "strokeWidth": 1},
       "encoding": {"y": {"datum": 1, "type": "quantitative"}, "y2": {"datum": 0.945}}}
     ]
    }
   }
  ]
 },
 {
  "title": {"text": "POSE-RELATED", "fontSize": 34, "fontWeight": "bold", "font": "DejaVu Sans", "anchor": "middle", "color": "#000", "offset": 15, "dx": 17},
  "spacing": 42,
  "hconcat": [
   {
    "title": {"text": "C", "anchor": "start", "frame": "bounds", "fontSize": 21, "fontWeight": "bold", "color": "#000", "offset": 8},
    "transform": [{"filter": "datum.p == 'C'"}, {"flatten": ["s"], "as": ["v"]}, {"window": [{"op": "row_number", "as": "k"}], "groupby": ["r","m"], "sort": [{"field": "v", "order": "descending"}]}],
    "facet": {"row": {"field": "r", "type": "ordinal", "header": null}},
    "spacing": 33,
    "spec": {
     "width": 581, "height": 88,
     "encoding": {"x": {"field": "m", "type": "nominal", "sort": null, "scale": {"domain": ["HAND EXT","HAND FLEX","BI LO","BI SH","BRACH","TRI LAT","TRI LONG","DELT A","DELT M","DELT P","PECT M","INFRASP","TRAP","LAT DORSI","TER MAJ"], "paddingInner": 0.18, "paddingOuter": 0.09}, "axis": {"title": null, "labelAngle": -30, "labelAlign": "right", "labelBaseline": "middle", "labelFontSize": 14, "labelPadding": 8, "labelOffset": 6, "ticks": false, "domain": false}}},
     "layer": [
      {"mark": {"type": "bar", "fill": "#c4c4c4", "stroke": "#1a1a1a", "strokeWidth": 0.8, "clip": true},
       "encoding": {"xOffset": {"field": "k", "type": "ordinal", "scale": {"paddingInner": 0, "paddingOuter": 0}}, "y": {"field": "v", "type": "quantitative", "stack": null, "scale": {"domain": [0,1]}, "axis": {"title": null, "values": [0,0.5,1], "format": "~g", "labelFontSize": 15, "tickSize": -4, "labelPadding": 5, "domain": false}}}},
      {"transform": [{"filter": "datum.k == 1"}], "mark": {"type": "bar", "fill": "#22a022", "fillOpacity": 0.7, "stroke": "#1e1e1e", "strokeWidth": 1, "clip": true},
       "encoding": {"y": {"field": "u", "type": "quantitative", "stack": null}}},
      {"transform": [{"filter": "datum.k == 1"}], "mark": {"type": "rule", "color": "#2a8fd4", "strokeWidth": 1.5, "clip": true},
       "encoding": {"y": {"field": "lo", "type": "quantitative"}, "y2": {"field": "hi"}}},
      {"transform": [{"filter": "datum.k == 1"}], "mark": {"type": "tick", "color": "#2a8fd4", "size": 13, "thickness": 1.5, "orient": "horizontal", "clip": true},
       "encoding": {"y": {"field": "hi", "type": "quantitative"}}},
      {"transform": [{"filter": "datum.k == 1"}], "mark": {"type": "tick", "color": "#2a8fd4", "size": 13, "thickness": 1.5, "orient": "horizontal", "clip": true},
       "encoding": {"y": {"field": "lo", "type": "quantitative"}}},
      {"transform": [{"filter": "datum.k == 1"}], "mark": {"type": "rule", "color": "#333", "strokeWidth": 1},
       "encoding": {"y": {"datum": 1, "type": "quantitative"}, "y2": {"datum": 0.945}}}
     ]
    }
   },
   {
    "title": {"text": "D", "anchor": "start", "frame": "bounds", "fontSize": 21, "fontWeight": "bold", "color": "#000", "offset": 8},
    "transform": [{"filter": "datum.p == 'D'"}, {"flatten": ["s"], "as": ["v"]}, {"window": [{"op": "row_number", "as": "k"}], "groupby": ["r","m"], "sort": [{"field": "v", "order": "descending"}]}],
    "facet": {"row": {"field": "r", "type": "ordinal", "header": null}},
    "spacing": 33,
    "spec": {
     "width": 581, "height": 88,
     "encoding": {"x": {"field": "m", "type": "nominal", "sort": null, "scale": {"domain": ["HAND EXT","HAND FLEX","BI LO","BI SH","BRACH","TRI LAT","TRI LONG","DELT A","DELT M","DELT P","PECT M","INFRASP","TRAP","LAT DORSI","TER MAJ"], "paddingInner": 0.18, "paddingOuter": 0.09}, "axis": {"title": null, "values": ["BRACH","TRI LAT","DELT A","DELT P","PECT M","INFRASP","LAT DORSI","TER MAJ"], "labelAngle": -30, "labelAlign": "right", "labelBaseline": "middle", "labelFontSize": 14, "labelPadding": 8, "labelOffset": 6, "ticks": false, "domain": false}}},
     "layer": [
      {"mark": {"type": "bar", "fill": "#c4c4c4", "stroke": "#1a1a1a", "strokeWidth": 0.8, "clip": true},
       "encoding": {"xOffset": {"field": "k", "type": "ordinal", "scale": {"paddingInner": 0, "paddingOuter": 0}}, "y": {"field": "v", "type": "quantitative", "stack": null, "scale": {"domain": [0,1]}, "axis": {"title": null, "values": [0,0.5,1], "format": "~g", "labelFontSize": 15, "tickSize": -4, "labelPadding": 5, "domain": false}}}},
      {"transform": [{"filter": "datum.k == 1"}], "mark": {"type": "bar", "fill": "#22a022", "fillOpacity": 0.7, "stroke": "#1e1e1e", "strokeWidth": 1, "clip": true},
       "encoding": {"y": {"field": "u", "type": "quantitative", "stack": null}}},
      {"transform": [{"filter": "datum.k == 1"}], "mark": {"type": "rule", "color": "#2a8fd4", "strokeWidth": 1.5, "clip": true},
       "encoding": {"y": {"field": "lo", "type": "quantitative"}, "y2": {"field": "hi"}}},
      {"transform": [{"filter": "datum.k == 1"}], "mark": {"type": "tick", "color": "#2a8fd4", "size": 13, "thickness": 1.5, "orient": "horizontal", "clip": true},
       "encoding": {"y": {"field": "hi", "type": "quantitative"}}},
      {"transform": [{"filter": "datum.k == 1"}], "mark": {"type": "tick", "color": "#2a8fd4", "size": 13, "thickness": 1.5, "orient": "horizontal", "clip": true},
       "encoding": {"y": {"field": "lo", "type": "quantitative"}}},
      {"transform": [{"filter": "datum.k == 1"}], "mark": {"type": "rule", "color": "#333", "strokeWidth": 1},
       "encoding": {"y": {"datum": 1, "type": "quantitative"}, "y2": {"datum": 0.945}}}
     ]
    }
   }
  ]
 },
 {
  "width": 1320, "height": 145,
  "view": {"stroke": null},
  "data": {"values": [
   {"i": 1, "b": 1, "t": "FIGURE 3 |"},
   {"i": 1, "b": 2, "t": "Synergies composition for “Pose-Shared” and “Pose-Related” extraction methods for both full and global optimal sets. Subject-specific synergy patterns"},
   {"i": 2, "b": 0, "t": "could not be compared since subjects’ muscle scores are generally different leading to different compositions of sets. Figures on the left (A,B) show the full set"},
   {"i": 3, "b": 0, "t": "synergies composition, figures on the right (C,D) the global optimal sets composition. Each row (i.e., synergy) contains all muscle contributions, showing all the"},
   {"i": 4, "b": 0, "t": "subjects’ coefficients of that muscle in that synergy, previously ordered, as a gray bar. The light green bars represent the mean contribution values. Whiskers represent"},
   {"i": 5, "b": 0, "t": "their total variance."}
  ]},
  "encoding": {
   "x": {"datum": 0, "type": "quantitative", "scale": {"domain": [0,1]}, "axis": null},
   "y": {"field": "i", "type": "quantitative", "scale": {"domain": [-0.12,5.634], "reverse": true}, "axis": null},
   "text": {"field": "t"}
  },
  "layer": [
   {"transform": [{"filter": "datum.b == 1"}], "mark": {"type": "text", "align": "left", "baseline": "middle", "font": "Roboto", "fontSize": 19, "fontWeight": "bold", "color": "#222", "dx": -68}},
   {"transform": [{"filter": "datum.b == 2"}], "mark": {"type": "text", "align": "left", "baseline": "middle", "font": "Roboto", "fontSize": 18, "color": "#222", "dx": 33}},
   {"transform": [{"filter": "datum.b == 0"}], "mark": {"type": "text", "align": "left", "baseline": "middle", "font": "Roboto", "fontSize": 18, "color": "#222", "dx": -68}}
  ]
 }
]
}
